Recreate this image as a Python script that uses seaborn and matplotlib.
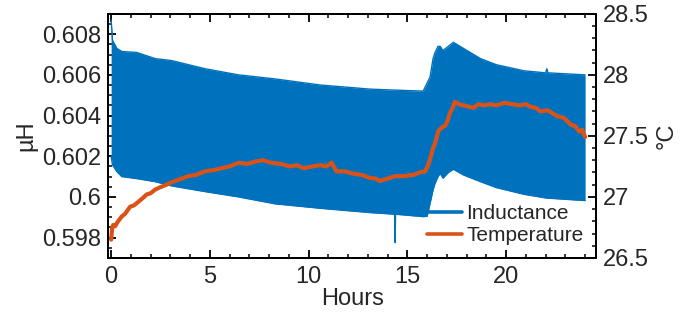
import numpy as np
import pandas as pd
import matplotlib
matplotlib.use("Agg")
import matplotlib.pyplot as plt
from matplotlib.ticker import MultipleLocator
import seaborn as sns

# Inductance envelope (the measured signal oscillates between these bounds)
ind_hours = [0.0, 0.07, 0.29, 0.54, 1.3, 2.23, 3.07, 4.76, 6.45, 8.3, 10.6, 13.1,
             14.36, 14.38, 14.40, 15.8, 16.0, 16.15, 16.3, 16.4, 16.55, 16.66, 16.8,
             17.07, 17.33, 17.84, 18.7, 19.5, 20.9, 22.0, 22.06, 22.12, 24.0]
ind_upper = [0.6087, 0.6077, 0.6073, 0.60715, 0.6071, 0.6068, 0.6067, 0.6063, 0.6060,
             0.6058, 0.6055, 0.6053, 0.60525, 0.60525, 0.60525, 0.6052, 0.6056, 0.6059,
             0.6068, 0.6071, 0.6074, 0.6074, 0.6072, 0.6074, 0.6076, 0.6073, 0.6068,
             0.6065, 0.6062, 0.6061, 0.6063, 0.6061, 0.6060]
ind_lower = [0.6020, 0.60157, 0.60124, 0.6010, 0.6009, 0.60075, 0.60054, 0.60026,
             0.6000, 0.59966, 0.59944, 0.59923, 0.59915, 0.59775, 0.59915, 0.59903,
             0.59905, 0.59969, 0.60035, 0.60067, 0.6010, 0.60116, 0.60092, 0.6012,
             0.60136, 0.60108, 0.60075, 0.60046, 0.60013, 0.59995, 0.59994, 0.59994,
             0.59982]

# Temperature (°C)
temp_hours = [0.0, 0.05, 0.1, 0.2, 0.35, 0.54, 0.7, 0.96, 1.15, 1.38, 1.6, 1.8, 2.0,
              2.23, 2.5, 2.8, 3.07, 3.4, 3.9, 4.3, 4.76, 5.2, 5.6, 6.0, 6.45, 6.9,
              7.3, 7.7, 8.1, 8.6, 9.06, 9.4, 9.74, 10.2, 10.6, 10.9, 11.17, 11.4,
              11.8, 12.27, 12.7, 13.1, 13.4, 13.6, 14.0, 14.38, 14.8, 15.3, 15.6,
              15.9, 16.05, 16.15, 16.3, 16.4, 16.57, 16.75, 16.9, 17.05, 17.16,
              17.3, 17.4, 17.6, 17.84, 18.1, 18.35, 18.6, 18.86, 19.2, 19.5, 19.9,
              20.3, 20.7, 21.0, 21.2, 21.5, 21.75, 22.1, 22.6, 22.9, 23.3, 23.5,
              23.7, 23.85, 24.0]
temp_values = [26.65, 26.74, 26.77, 26.76, 26.80, 26.84, 26.86, 26.92, 26.93, 26.96,
               26.99, 27.02, 27.03, 27.06, 27.08, 27.10, 27.12, 27.14, 27.17, 27.18,
               27.21, 27.22, 27.235, 27.25, 27.28, 27.27, 27.29, 27.30, 27.28, 27.27,
               27.25, 27.26, 27.235, 27.25, 27.26, 27.25, 27.28, 27.21, 27.21, 27.19,
               27.18, 27.155, 27.15, 27.13, 27.15, 27.17, 27.17, 27.18, 27.20, 27.21,
               27.26, 27.31, 27.40, 27.44, 27.54, 27.57, 27.58, 27.63, 27.69, 27.73,
               27.78, 27.76, 27.75, 27.74, 27.73, 27.76, 27.75, 27.76, 27.75, 27.77,
               27.76, 27.75, 27.76, 27.74, 27.73, 27.70, 27.71, 27.66, 27.65, 27.59,
               27.58, 27.535, 27.55, 27.49]

BLUE = "#0072BD"
ORANGE = "#D95319"

ind_df = pd.DataFrame({"Hours": ind_hours, "upper": ind_upper, "lower": ind_lower})
temp_df = pd.DataFrame({"Hours": temp_hours, "Temperature": temp_values})

sns.set_style("ticks")
plt.rcParams["font.family"] = ["Liberation Sans", "DejaVu Sans"]
plt.rcParams["font.size"] = 17

fig = plt.figure(figsize=(6.89, 3.22), dpi=100)
ax = fig.add_axes([0.157, 0.199, 0.708, 0.758])
ax2 = ax.twinx()

# blue band
ax.fill_between(ind_df["Hours"], ind_df["lower"], ind_df["upper"], color=BLUE, lw=0)
sns.lineplot(data=ind_df, x="Hours", y="upper", ax=ax, color=BLUE, lw=1.0, label="Inductance")
sns.lineplot(data=ind_df, x="Hours", y="lower", ax=ax, color=BLUE, lw=1.0)

# temperature
sns.lineplot(data=temp_df, x="Hours", y="Temperature", ax=ax2, color=ORANGE, lw=3.0,
             label="Temperature")

ax.set_xlim(-0.15, 24.55)
ax.set_ylim(0.597, 0.609)
ax2.set_ylim(26.5, 28.5)

ax.set_xlabel("Hours", fontsize=17, labelpad=0)
ax.set_ylabel("µH", fontsize=17, labelpad=3)
ax2.set_ylabel("°C", fontsize=17, labelpad=5)

ax.xaxis.set_major_locator(MultipleLocator(5))
ax.xaxis.set_minor_locator(MultipleLocator(1))
ax.yaxis.set_minor_locator(MultipleLocator(0.0005))
ax2.yaxis.set_minor_locator(MultipleLocator(0.1))
ax.set_yticks(np.arange(0.598, 0.6085, 0.002))
ax.set_yticklabels(["0.598", "0.6", "0.602", "0.604", "0.606", "0.608"])
ax2.set_yticks([26.5, 27, 27.5, 28, 28.5])
ax2.set_yticklabels(["26.5", "27", "27.5", "28", "28.5"])

ax.tick_params(axis="x", which="both", direction="in", top=True, labelsize=17, pad=6)
ax.tick_params(axis="y", which="both", direction="in", right=False, labelsize=17, pad=5)
ax2.tick_params(axis="y", which="both", direction="in", labelsize=17, pad=5)
for a in (ax, ax2):
    a.tick_params(which="major", length=6, width=1.3, color="black")
    a.tick_params(which="minor", length=3, width=1.1, color="black")
    for s in a.spines.values():
        s.set_linewidth(1.4)
        s.set_color("black")

h1, l1 = ax.get_legend_handles_labels()
h2, l2 = ax2.get_legend_handles_labels()
if ax.get_legend():
    ax.get_legend().remove()
leg = ax2.legend(h1 + h2, l1 + l2, loc="lower right", bbox_to_anchor=(1.0, 0.0),
                 frameon=False, fontsize=15, handlelength=1.7, handletextpad=0.2,
                 labelspacing=0.15, borderaxespad=0.2)
for line in leg.get_lines():
    line.set_linewidth(2.6)

fig.savefig("out.png", dpi=100)
